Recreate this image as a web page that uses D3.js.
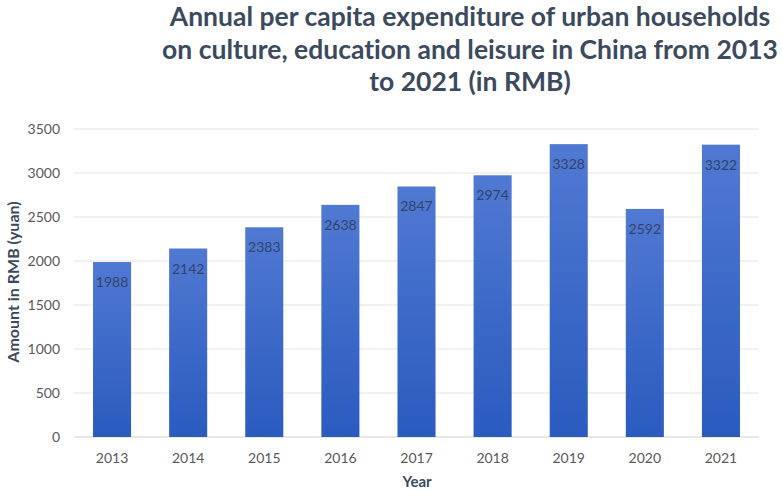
<!DOCTYPE html>
<html><head><meta charset="utf-8">
<script src="https://cdn.jsdelivr.net/npm/d3@7"></script>
<style>body{margin:0;background:#fff}svg{display:block}text{font-variant-ligatures:none;font-feature-settings:"liga" 0,"dlig" 0}</style>
</head><body>
<svg id="c" width="782" height="496"></svg>
<script>
const years = ["2013","2014","2015","2016","2017","2018","2019","2020","2021"];
const values = [1988,2142,2383,2638,2847,2974,3328,2592,3322];
const yTicks = [0,500,1000,1500,2000,2500,3000,3500];
const titleLines = ["Annual per capita expenditure of urban households","on culture, education and leisure in China from 2013","to 2021 (in RMB)"];

const svg = d3.select("#c");
const font = "Lato, 'Open Sans', sans-serif";
const defs = svg.append("defs");
const grad = defs.append("linearGradient").attr("id","g").attr("x1",0).attr("y1",0).attr("x2",0).attr("y2",1);
grad.append("stop").attr("offset","0%").attr("stop-color","#5079d2");
grad.append("stop").attr("offset","100%").attr("stop-color","#2a5bbf");

const x = d3.scaleBand().domain(years).range([74,759]).paddingInner(0.5).paddingOuter(0.25);
const y = d3.scaleLinear().domain([0,3500]).range([437,129]);

// gridlines
svg.append("g").selectAll("line").data(yTicks).join("line")
  .attr("x1",74).attr("x2",759).attr("y1",d=>y(d)).attr("y2",d=>y(d))
  .attr("stroke",d=>d===0?"#d0d0d0":"#e3e3e3").attr("stroke-width",1);

// y axis labels
const ya = svg.append("g").attr("transform","translate(60,0)")
  .call(d3.axisLeft(y).tickValues(yTicks).tickFormat(d3.format("d")).tickSize(0).tickPadding(0));
ya.select(".domain").remove();
ya.selectAll("text").attr("font-family",font).attr("font-size",14).attr("fill","#595959");

// x axis labels
const xa = svg.append("g").attr("transform","translate(0,445)")
  .call(d3.axisBottom(x).tickSize(0).tickPadding(8));
xa.select(".domain").remove();
xa.selectAll("text").attr("font-family",font).attr("font-size",14).attr("fill","#595959");

// bars
svg.append("g").selectAll("rect").data(values).join("rect")
  .attr("x",(d,i)=>x(years[i])).attr("width",x.bandwidth())
  .attr("y",d=>y(d)).attr("height",d=>y(0)-y(d))
  .attr("fill","url(#g)");

// value labels
svg.append("g").selectAll("text").data(values).join("text")
  .attr("x",(d,i)=>x(years[i])+x.bandwidth()/2).attr("y",d=>y(d)+25)
  .attr("text-anchor","middle").attr("font-family",font).attr("font-size",14)
  .attr("fill","#33446a").text(d=>d);

// title
svg.append("g").selectAll("text").data(titleLines).join("text")
  .attr("x",470).attr("y",(d,i)=>26+i*32.5).attr("text-anchor","middle")
  .attr("font-family",font).attr("font-weight","bold").attr("font-size",26.5)
  .attr("fill","#3b4a5c").text(d=>d);

// axis titles
svg.append("text").attr("transform","translate(19,282) rotate(-90)").attr("text-anchor","middle")
  .attr("font-family",font).attr("font-weight","bold").attr("font-size",16).attr("fill","#3b4a5c")
  .text("Amount in RMB (yuan)");
svg.append("text").attr("x",417).attr("y",487).attr("text-anchor","middle")
  .attr("font-family",font).attr("font-weight","bold").attr("font-size",15).attr("fill","#3b4a5c")
  .text("Year");
</script>
</body></html>
